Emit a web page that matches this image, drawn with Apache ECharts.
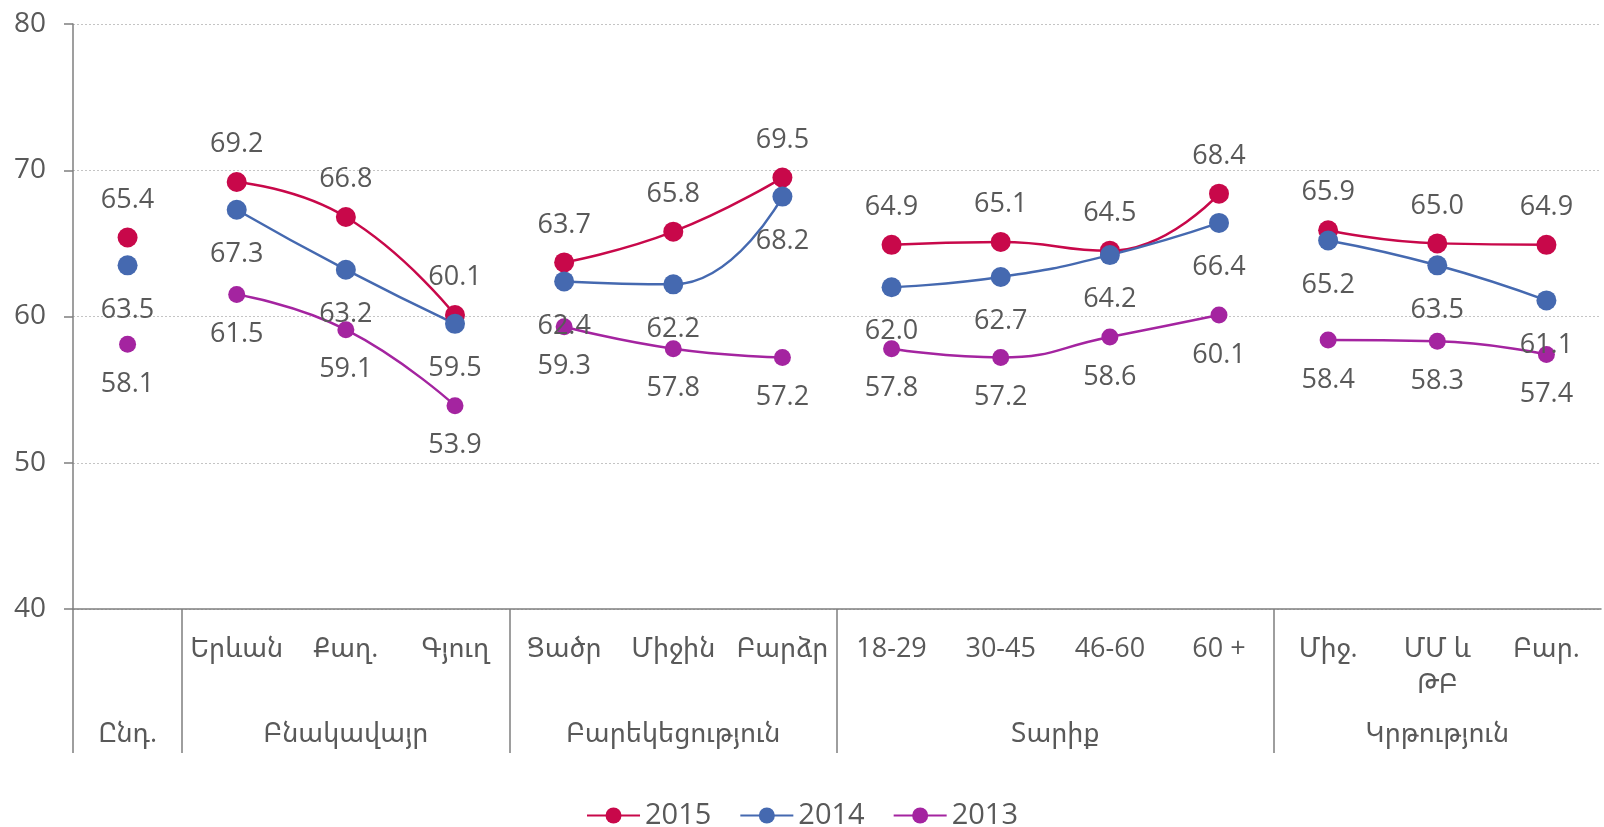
<!DOCTYPE html>
<html>
<head>
<meta charset="utf-8">
<title>Line chart</title>
<script src="https://cdn.jsdelivr.net/npm/echarts@6/dist/echarts.min.js"></script>
<style>
    html, body { margin: 0; padding: 0; background: #fff; }
    #chart { width: 1604px; height: 827px; }
</style>
</head>
<body>
<div id="chart"></div>
<script>
// Chart data
// ------------------------------

// first column has no own label, only the group name below
var categories = ['', 'Երևան', 'Քաղ.', 'Գյուղ', 'Ցածր', 'Միջին', 'Բարձր', '18-29', '30-45', '46-60', '60 +', 'Միջ.', 'ՄՄ և\nԹԲ', 'Բար.'];
var groupNames = ['Ընդ.', 'Բնակավայր', 'Բարեկեցություն', 'Տարիք', 'Կրթություն'];
var groupSizes = [1, 3, 3, 4, 3];
var years = ['2015', '2014', '2013'];
var values2015 = [65.4, 69.2, 66.8, 60.1, 63.7, 65.8, 69.5, 64.9, 65.1, 64.5, 68.4, 65.9, 65.0, 64.9];
var values2014 = [63.5, 67.3, 63.2, 59.5, 62.4, 62.2, 68.2, 62.0, 62.7, 64.2, 66.4, 65.2, 63.5, 61.1];
var values2013 = [58.1, 61.5, 59.1, 53.9, 59.3, 57.8, 57.2, 57.8, 57.2, 58.6, 60.1, 58.4, 58.3, 57.4];


// Setup module
// ------------------------------

var ChartLinesGrouped = function() {

    var fontFamily = "'Open Sans', 'Noto Sans Armenian', 'DejaVu Sans', sans-serif";
    var textColor = '#595959';
    var axisColor = '#7f7f7f';

    var yearStyles = {
        '2015': { color: '#c8084a', size: 20, position: 'top', distance: 14 },
        '2014': { color: '#4569b0', size: 20, position: 'bottom', distance: 21 },
        '2013': { color: '#a424a0', size: 17, position: 'bottom', distance: 18 }
    };

    var _buildSeries = function() {
        var valuesByYear = { '2015': values2015, '2014': values2014, '2013': values2013 };
        var series = [];
        years.forEach(function(year) {
            var st = yearStyles[year];
            var start = 0;
            groupSizes.forEach(function(size) {
                var data = [];
                for (var i = start; i < start + size; i++) {
                    data.push([i, valuesByYear[year][i]]);
                }
                series.push({
                    name: year,
                    type: 'line',
                    smooth: 0.5,
                    symbol: 'circle',
                    symbolSize: st.size,
                    color: st.color,
                    lineStyle: { width: 2.5, color: st.color },
                    itemStyle: { color: st.color },
                    label: {
                        show: true,
                        position: st.position,
                        distance: st.distance,
                        color: textColor,
                        fontSize: 27,
                        fontFamily: fontFamily,
                        formatter: function(p) { return p.value[1].toFixed(1); }
                    },
                    emphasis: { disabled: true },
                    data: data
                });
                start += size;
            });
        });
        return series;
    };

    var _buildGroupAxis = function() {
        // half-step positions: boundaries and group centres
        var labels = [];
        var ticks = {};
        for (var k = 0; k <= categories.length * 2; k++) labels.push('');
        var start = 0;
        groupSizes.forEach(function(size, g) {
            ticks[start * 2] = true;
            labels[start * 2 + size] = groupNames[g];
            start += size;
        });
        return { labels: labels, ticks: ticks };
    };

    var _init = function() {
        if (typeof echarts == 'undefined') {
            console.warn('Warning - echarts.min.js is not loaded.');
            return;
        }
        var element = document.getElementById('chart');
        if (!element) return;

        var chart = echarts.init(element);
        var groupAxis = _buildGroupAxis();

        chart.setOption({
            animation: false,
            textStyle: { fontFamily: fontFamily },
            grid: { left: 73, right: 0, top: 24, bottom: 218, containLabel: false },
            legend: {
                data: years,
                bottom: -8,
                left: 'center',
                itemWidth: 53,
                itemHeight: 20,
                itemGap: 28,
                textStyle: { color: textColor, fontSize: 29, fontFamily: fontFamily }
            },
            xAxis: [{
                type: 'category',
                data: categories,
                boundaryGap: true,
                axisLine: { show: true, lineStyle: { color: axisColor, width: 1.5 } },
                axisTick: { show: false },
                axisLabel: {
                    interval: 0,
                    margin: 22,
                    color: textColor,
                    fontSize: 27,
                    lineHeight: 36,
                    fontFamily: fontFamily
                },
                splitLine: { show: false }
            }, {
                type: 'category',
                data: groupAxis.labels,
                boundaryGap: false,
                position: 'bottom',
                axisLine: { show: false },
                axisTick: {
                    show: true,
                    length: 144,
                    interval: function(index) { return !!groupAxis.ticks[index]; },
                    lineStyle: { color: axisColor, width: 1.5 }
                },
                axisLabel: {
                    interval: 0,
                    margin: 112,
                    color: textColor,
                    fontSize: 27,
                    fontFamily: fontFamily
                },
                splitLine: { show: false }
            }],
            yAxis: {
                type: 'value',
                min: 40,
                max: 80,
                interval: 10,
                axisLine: { show: true, lineStyle: { color: axisColor, width: 1.5 } },
                axisTick: { show: true, length: 9, lineStyle: { color: axisColor, width: 1.5 } },
                axisLabel: { margin: 27, color: textColor, fontSize: 28, fontFamily: fontFamily },
                splitLine: { lineStyle: { color: '#c4c4c4', width: 1, type: [2, 2] } }
            },
            series: _buildSeries()
        });

        window.addEventListener('resize', function() { chart.resize(); });
    };

    return {
        init: function() {
            _init();
        }
    };
}();


// Initialize module
// ------------------------------

document.addEventListener('DOMContentLoaded', function() {
    ChartLinesGrouped.init();
});
</script>
</body>
</html>
